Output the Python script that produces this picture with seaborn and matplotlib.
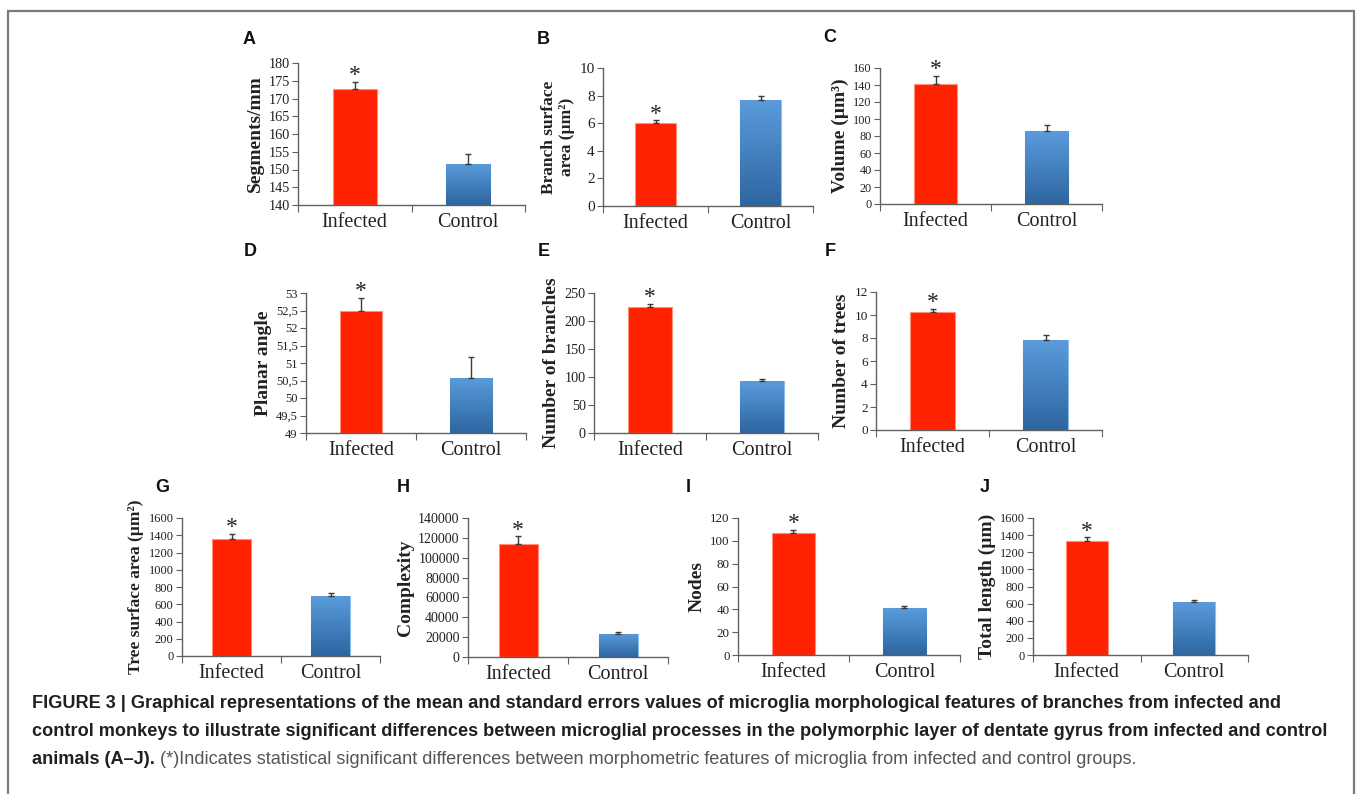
import numpy as np
import matplotlib
matplotlib.use("Agg")
import matplotlib.pyplot as plt
from matplotlib.lines import Line2D
from matplotlib.ticker import FuncFormatter
from matplotlib.colors import LinearSegmentedColormap
import seaborn as sns

# datos
groups = ["Infected", "Control"]
panels = ["A", "B", "C", "D", "E", "F", "G", "H", "I", "J"]
ylabels = ["Segments/mm", "Branch surface\narea (µm²)", "Volume (µm³)",
           "Planar angle", "Number of branches", "Number of trees",
           "Tree surface area (µm²)", "Complexity", "Nodes", "Total length (µm)"]
infected_mean = [172.6, 5.98, 141.6, 52.50, 225.3, 10.23, 1359, 113700, 106.8, 1334]
infected_se = [2.1, 0.22, 8.6, 0.36, 4.8, 0.32, 55, 7700, 2.9, 40]
control_mean = [151.6, 7.65, 85.3, 50.58, 92.2, 7.82, 695, 23600, 41.0, 617]
control_se = [2.7, 0.29, 7.8, 0.59, 3.6, 0.41, 31, 2000, 2.3, 23]
y_min = [140, 0, 0, 49, 0, 0, 0, 0, 0, 0]
y_max = [180, 10, 160, 53, 250, 12, 1600, 140000, 120, 1600]
y_step = [5, 2, 20, 0.5, 50, 2, 200, 20000, 20, 200]

caption_1 = ("FIGURE 3 | Graphical representations of the mean and standard errors values of "
             "microglia morphological features of branches from infected and")
caption_2 = ("control monkeys to illustrate significant differences between microglial processes "
             "in the polymorphic layer of dentate gyrus from infected and control")
caption_3a = "animals (A–J)."
caption_3b = ("(*)Indicates statistical significant differences between morphometric features "
              "of microglia from infected and control groups.")

W, H = 1358, 794
RED = "#ff2200"
BLUE_TOP, BLUE_BOT = "#5a9bdc", "#2e66a0"

sns.set_style("ticks")
plt.rcParams["font.family"] = ["Liberation Serif", "DejaVu Serif"]

# cajas de ejes en pixeles (izq, arriba, der, abajo) y posicion de la letra
boxes = [(298, 63, 525, 205), (603, 68, 813, 206), (880, 68, 1102, 204),
         (306, 293, 526, 433), (594, 293, 818, 433), (876, 292, 1102, 430),
         (182, 518, 380, 656), (468, 518, 668, 657), (738, 518, 960, 655),
         (1033, 518, 1248, 655)]
letter_pos = [(243, 39), (537, 39), (823, 38), (244, 251), (538, 251), (825, 252),
              (155, 488), (397, 488), (686, 488), (980, 488)]
ylabel_size = [14, 12.5, 14, 14, 14, 14, 12.5, 14, 14, 14]
tick_size = [10.3, 11, 8.8, 9, 10.3, 9.5, 9, 10, 9.4, 9]

fig = plt.figure(figsize=(W / 100, H / 100), dpi=100)
grad = LinearSegmentedColormap.from_list("grad", [BLUE_BOT, BLUE_TOP])


def fmt(v, pos):
    return f"{v:g}".replace(".", ",")


for i, (l, t, r, b) in enumerate(boxes):
    ax = fig.add_axes([l / W, 1 - b / H, (r - l) / W, (b - t) / H])
    vals = [infected_mean[i], control_mean[i]]
    sns.barplot(x=groups, y=vals, hue=groups, palette=[RED, BLUE_TOP],
                width=0.39, errorbar=None, legend=False, ax=ax,
                linewidth=0.8, saturation=1)
    bars = ax.patches
    bars[0].set_edgecolor("#ff8f7a")
    bars[1].set_edgecolor("#8fc0ee")

    # degradado de la barra control
    x0, y0, x1, y1 = bars[1].get_bbox().extents
    y0 = max(y0, y_min[i])
    img = ax.imshow(np.linspace(1, 0, 100).reshape(-1, 1), cmap=grad,
                    extent=(x0, x1, y0, y1), aspect="auto", zorder=bars[1].get_zorder() + 0.1)
    img.set_clip_path(bars[1])

    xs = [p.get_x() + p.get_width() / 2 for p in bars]
    ax.errorbar(xs, vals, yerr=[[0, 0], [infected_se[i], control_se[i]]],
                fmt="none", ecolor="#3a3a3a", elinewidth=1, capsize=2.5, capthick=1, zorder=5)
    ax.annotate("*", xy=(xs[0], infected_mean[i] + infected_se[i]), xytext=(0, -3),
                textcoords="offset points", ha="center", va="bottom", fontsize=17,
                color="#222222", annotation_clip=False)

    ax.set_xlim(-0.5, 1.5)
    ax.set_ylim(y_min[i], y_max[i])
    ax.set_yticks(np.arange(y_min[i], y_max[i] + y_step[i] / 2, y_step[i]))
    ax.yaxis.set_major_formatter(FuncFormatter(fmt))
    ax.set_xticks([-0.5, 0.5, 1.5])
    ax.set_xticklabels([])
    ax.set_xticks([0, 1], minor=True)
    ax.set_xticklabels(groups, minor=True, fontsize=14.5, color="#222222")
    ax.tick_params(axis="x", which="minor", length=0, pad=6)
    ax.tick_params(axis="x", which="major", length=5, color="#606060")
    ax.tick_params(axis="y", length=4, color="#606060", labelsize=tick_size[i],
                   pad=2, labelcolor="#222222")
    sns.despine(ax=ax)
    for s in ["left", "bottom"]:
        ax.spines[s].set_color("#606060")
        ax.spines[s].set_linewidth(1)
    ax.set_xlabel("")
    ax.set_ylabel(ylabels[i], fontsize=ylabel_size[i], fontweight="bold",
                  color="#222222", labelpad=3, multialignment="center")

    lx, ly = letter_pos[i]
    fig.text(lx / W, 1 - ly / H, panels[i], family="Liberation Sans", fontweight="bold",
             fontsize=13, va="center", ha="left", color="#111111")

# pie de figura
cap = dict(family="Liberation Sans", fontsize=13.1, va="center", ha="left")
fig.text(32 / W, 1 - 703 / H, caption_1, fontweight="bold", color="#231f20", **cap)
fig.text(32 / W, 1 - 731 / H, caption_2, fontweight="bold", color="#231f20", **cap)
t3 = fig.text(32 / W, 1 - 760 / H, caption_3a, fontweight="bold", color="#231f20", **cap)
rend = fig.canvas.get_renderer()
bb = t3.get_window_extent(renderer=rend)
fig.text((bb.x1 + 5) / W, 1 - 760 / H, caption_3b, color="#555555", **cap)

# marco
for xs_, ys_ in [([8, 8], [794, 11]), ([8, 1354], [11, 11]), ([1354, 1354], [11, 794])]:
    fig.add_artist(Line2D([x / W for x in xs_], [1 - y / H for y in ys_],
                          transform=fig.transFigure, color="#7a7a7a", lw=1.6))

fig.savefig("out.png", dpi=100)
